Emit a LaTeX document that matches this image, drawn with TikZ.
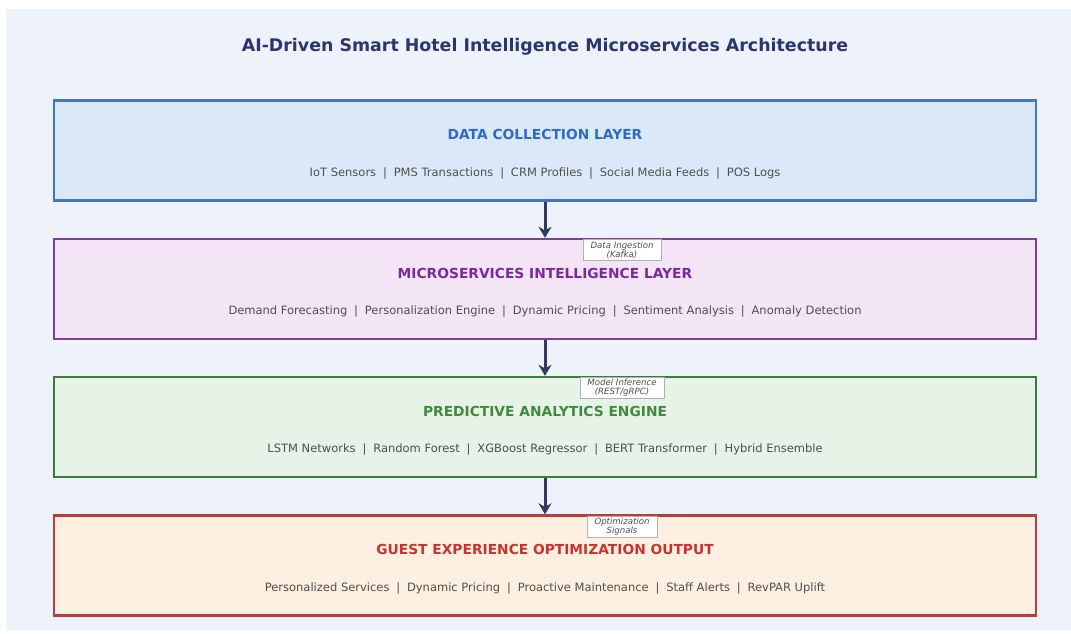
\documentclass[tikz,border=0pt]{standalone}
\usepackage{fontspec}
\setmainfont{DejaVu Sans}
\usepackage{tikz}
\usetikzlibrary{positioning, arrows.meta}
\definecolor{panelbg}{HTML}{EEF2FB}
\definecolor{navy}{HTML}{2B3570}
\definecolor{arrowc}{HTML}{2C3B5E}
\definecolor{itemc}{HTML}{4F4F4F}
\definecolor{blueF}{HTML}{DBE8FA}
\definecolor{blueD}{HTML}{4676BD}
\definecolor{blueT}{HTML}{2D6BC8}
\definecolor{purpF}{HTML}{F3E4F6}
\definecolor{purpD}{HTML}{7E3F9C}
\definecolor{purpT}{HTML}{7A2A9C}
\definecolor{grnF}{HTML}{E6F3E6}
\definecolor{grnD}{HTML}{3C7A3E}
\definecolor{grnT}{HTML}{3E8A3E}
\definecolor{redF}{HTML}{FDF0E0}
\definecolor{redD}{HTML}{BB3C3C}
\definecolor{redT}{HTML}{C8332F}
\tikzset{
  layer/.style={draw, line width=2.4pt, minimum width=982pt, minimum height=100pt, inner sep=0pt},
  layertitle/.style={font=\fontsize{13.8}{16}\selectfont\bfseries},
  items/.style={font=\fontsize{11.5}{13}\selectfont, text=itemc},
  tag/.style={draw=gray!60, fill=white, line width=0.6pt, align=center, inner sep=1pt,
    minimum width=78pt, minimum height=21pt, font=\fontsize{8.6}{9}\selectfont\itshape, text=itemc},
  flow/.style={-{Stealth[length=11pt,width=13pt]}, line width=3pt, draw=arrowc}
}

\begin{document}
\begin{tikzpicture}[x=1pt, y=-1pt]
        \useasboundingbox (0,0) rectangle (1071,634);
        \fill[white] (0,0) rectangle (1071,634);
        \fill[panelbg] (6,9) rectangle (1071,630);
        \node[font=\fontsize{17.4}{20}\selectfont\bfseries, text=navy] (title) at (545,47)
          {AI-Driven Smart Hotel Intelligence Microservices Architecture};

        % layer boxes
        \node[layer, draw=blueD, fill=blueF] (data) at (545,150.5) {};
        \node[layer, draw=purpD, fill=purpF] (micro) at (545,289) {};
        \node[layer, draw=grnD, fill=grnF] (predict) at (545,427) {};
        \node[layer, draw=redD, fill=redF] (guest) at (545,565.5) {};

        % titles and components
        \node[layertitle, text=blueT] (dataT) at ([yshift=16pt]data.center) {DATA COLLECTION LAYER};
        \node[items] (dataI) at ([yshift=-22.5pt]data.center)
          {IoT Sensors \;|\; PMS Transactions \;|\; CRM Profiles \;|\; Social Media Feeds \;|\; POS Logs};
        \node[layertitle, text=purpT] (microT) at ([yshift=16pt]micro.center) {MICROSERVICES INTELLIGENCE LAYER};
        \node[items] (microI) at ([yshift=-22.5pt]micro.center)
          {Demand Forecasting \;|\; Personalization Engine \;|\; Dynamic Pricing \;|\; Sentiment Analysis \;|\; Anomaly Detection};
        \node[layertitle, text=grnT] (predictT) at ([yshift=16pt]predict.center) {PREDICTIVE ANALYTICS ENGINE};
        \node[items] (predictI) at ([yshift=-22.5pt]predict.center)
          {LSTM Networks \;|\; Random Forest \;|\; XGBoost Regressor \;|\; BERT Transformer \;|\; Hybrid Ensemble};
        \node[layertitle, text=redT] (guestT) at ([yshift=16pt]guest.center) {GUEST EXPERIENCE OPTIMIZATION OUTPUT};
        \node[items] (guestI) at ([yshift=-22.5pt]guest.center)
          {Personalized Services \;|\; Dynamic Pricing \;|\; Proactive Maintenance \;|\; Staff Alerts \;|\; RevPAR Uplift};

        % flows between layers
        \draw[flow] (data.south) -- (micro.north);
        \draw[flow] (micro.south) -- (predict.north);
        \draw[flow] (predict.south) -- (guest.north);
        \node[tag] (ingest) at ([xshift=77pt, yshift=-12pt]micro.north) {Data Ingestion\\(Kafka)};
        \node[tag, minimum width=84pt] (infer) at ([xshift=77pt, yshift=-12pt]predict.north) {Model Inference\\(REST/gRPC)};
        \node[tag, minimum width=70pt] (signal) at ([xshift=77pt, yshift=-12pt]guest.north) {Optimization\\Signals};
    \end{tikzpicture}
\end{document}
